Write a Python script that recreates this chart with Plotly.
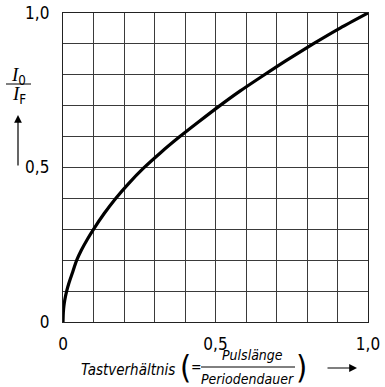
import plotly.graph_objects as go

# Tastverhältnis (duty cycle) vs I0/IF
duty = [0.0, 0.001, 0.003, 0.006, 0.012, 0.02, 0.03, 0.045, 0.06, 0.08, 0.1, 0.135, 0.172, 0.215, 0.263,
        0.32, 0.383, 0.445, 0.51, 0.58, 0.648, 0.73, 0.82, 0.91, 1.0]
ratio = [0.0, 0.03, 0.052, 0.072, 0.1, 0.128, 0.157, 0.2, 0.232, 0.268, 0.3, 0.351, 0.399, 0.448, 0.497,
         0.548, 0.6, 0.648, 0.697, 0.747, 0.792, 0.845, 0.9, 0.952, 1.0]

grid_vals = [0.0, 0.1, 0.2, 0.3, 0.4, 0.5, 0.6, 0.7, 0.8, 0.9, 1.0]
grid_text = ["0", "", "", "", "", "0,5", "", "", "", "", "1,0"]

NARROW = "Liberation Sans Narrow, DejaVu Sans Condensed, Arial Narrow, sans-serif"
SERIF = "Liberation Serif, DejaVu Serif, serif"

fig = go.Figure()
fig.add_trace(go.Scatter(x=duty, y=ratio, mode="lines",
                         line=dict(color="black", width=3.2, shape="spline", smoothing=0.6),
                         cliponaxis=False, showlegend=False, hoverinfo="skip"))

axis_common = dict(range=[0, 1], tickmode="array", tickvals=grid_vals, ticktext=grid_text,
                   showgrid=True, gridcolor="#3a3a3a", gridwidth=1, zeroline=False,
                   showline=True, linecolor="#222", linewidth=1.4, mirror=True, automargin=False,
                   ticks="", tickfont=dict(family=NARROW, size=17, color="black"), fixedrange=True)

fig.update_xaxes(**axis_common, ticklabelstandoff=6)
fig.update_yaxes(**axis_common, ticklabelstandoff=9)

def px_to_paper(px, py):
    return (px - 63) / 305.0, (322 - py) / 309.0

annots = []
def txt(px, py, text, size, family=NARROW, italic=True):
    x, y = px_to_paper(px, py)
    t = f"<i>{text}</i>" if italic else text
    annots.append(dict(x=x, y=y, xref="paper", yref="paper", text=t, showarrow=False,
                       xanchor="center", yanchor="middle", font=dict(family=family, size=size, color="black")))

# y-axis label I0 / IF
txt(18, 76, f"<span style='font-family:{SERIF}'><i>I</i></span><sub>0</sub>", 19, italic=False)
txt(19, 95, f"<span style='font-family:{SERIF}'><i>I</i></span><sub>F</sub>", 19, italic=False)

# x-axis title pieces
txt(128, 370, "Tastverhältnis", 15)
txt(185, 367, "(", 32, italic=False)
txt(196, 367, "=", 14, italic=False)
txt(252, 355, "Pulslänge", 14)
txt(247, 379, "Periodendauer", 14)
txt(301, 367, ")", 32, italic=False)

# arrows
ax_tip = px_to_paper(18, 115)
annots.append(dict(x=ax_tip[0], y=ax_tip[1], xref="paper", yref="paper", text="", showarrow=True,
                   ax=0, ay=52, arrowhead=2, arrowsize=1.3, arrowwidth=1.2, arrowcolor="black"))
x_tip = px_to_paper(357, 368)
annots.append(dict(x=x_tip[0], y=x_tip[1], xref="paper", yref="paper", text="", showarrow=True,
                   ax=-31, ay=0, arrowhead=2, arrowsize=1.3, arrowwidth=1.2, arrowcolor="black"))

shapes = []
x0, y0 = px_to_paper(6, 84)
x1, _ = px_to_paper(31, 84)
shapes.append(dict(type="line", xref="paper", yref="paper", x0=x0, x1=x1, y0=y0, y1=y0, line=dict(color="black", width=1)))
x0, y0 = px_to_paper(201, 367)
x1, _ = px_to_paper(295, 367)
shapes.append(dict(type="line", xref="paper", yref="paper", x0=x0, x1=x1, y0=y0, y1=y0, line=dict(color="black", width=1)))

fig.update_layout(width=385, height=387, margin=dict(l=63, r=17, t=13, b=65),
                  paper_bgcolor="white", plot_bgcolor="white",
                  annotations=annots, shapes=shapes, showlegend=False)

fig.write_html("out.html", config={"displayModeBar": False})
